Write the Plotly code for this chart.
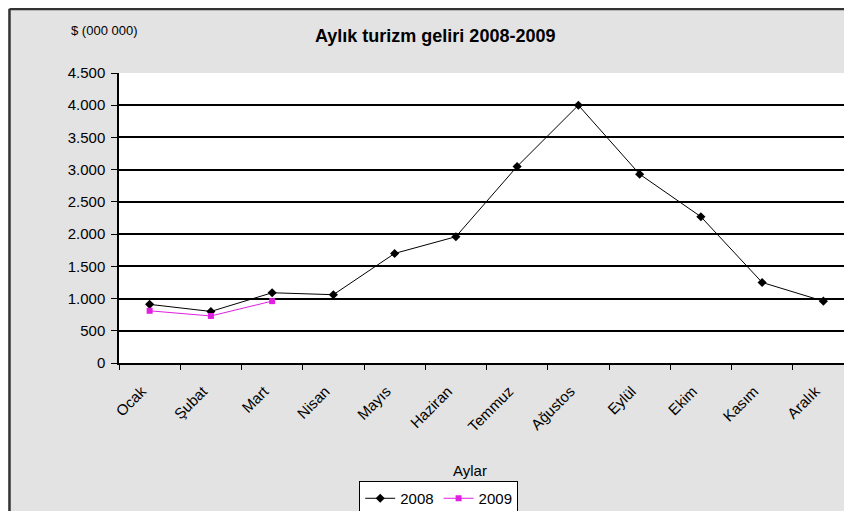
import plotly.graph_objects as go

months = ["Ocak", "Şubat", "Mart", "Nisan", "Mayıs", "Haziran", "Temmuz",
          "Ağustos", "Eylül", "Ekim", "Kasım", "Aralık"]
values_2008 = [910, 800, 1090, 1060, 1700, 1960, 3050, 4000, 2930, 2270, 1250, 960]
values_2009 = [810, 730, 960]
y_ticks = [0, 500, 1000, 1500, 2000, 2500, 3000, 3500, 4000, 4500]

FONT = "Liberation Sans"

fig = go.Figure()
fig.add_trace(go.Scatter(
    x=months, y=values_2008, name="2008", mode="lines+markers",
    line=dict(color="black", width=1),
    marker=dict(symbol="diamond", size=7, color="black"),
))
fig.add_trace(go.Scatter(
    x=months[:len(values_2009)], y=values_2009, name="2009", mode="lines+markers",
    line=dict(color="#e020e0", width=1),
    marker=dict(symbol="square", size=6, color="#e020e0"),
))

fig.update_layout(
    width=852, height=511,
    margin=dict(l=111, r=6, t=65, b=156, autoexpand=False),
    paper_bgcolor="#e3e3e3",
    plot_bgcolor="white",
    separators=",.",
    font=dict(family=FONT, size=15, color="black"),
    showlegend=True,
    legend=dict(
        orientation="h", x=0.435, y=-0.407, xanchor="center", yanchor="top",
        bgcolor="white", bordercolor="black", borderwidth=1,
        font=dict(family=FONT, size=15), itemwidth=30,
        tracegroupgap=0,
    ),
    xaxis=dict(
        type="category", categoryorder="array", categoryarray=months,
        range=[-0.5, 11.5], automargin=False,
        showgrid=False, showline=True, linecolor="black", linewidth=1.5,
        ticks="outside", tickson="boundaries", ticklen=5, tickcolor="black",
        tickangle=-45, tickfont=dict(family=FONT, size=15),
        ticklabelstandoff=12, ticklabelshift=-8,
    ),
    yaxis=dict(
        range=[0, 4500], tickvals=y_ticks, tickformat=",d", automargin=False,
        showgrid=True, gridcolor="black", gridwidth=1.5,
        showline=True, linecolor="black", linewidth=1.5,
        zeroline=False,
        ticks="outside", ticklen=6, tickcolor="black",
        tickfont=dict(family=FONT, size=15),
        ticklabelstandoff=3,
    ),
    annotations=[
        dict(text="<b>Aylık turizm geliri 2008-2009</b>", xref="paper", yref="paper",
             x=0.430, y=1.128, xanchor="center", yanchor="middle", showarrow=False,
             font=dict(family=FONT, size=18, color="black")),
        dict(text="$ (000 000)", xref="paper", yref="paper",
             x=-0.02, y=1.145, xanchor="center", yanchor="middle", showarrow=False,
             font=dict(family=FONT, size=13, color="black")),
        dict(text="Aylar", xref="paper", yref="paper",
             x=0.478, y=-0.372, xanchor="center", yanchor="middle", showarrow=False,
             font=dict(family=FONT, size=15, color="black")),
    ],
    shapes=[
        dict(type="line", xref="paper", yref="paper", x0=-0.149, x1=1.05,
             y0=1.221, y1=1.221, line=dict(color="#333333", width=2.5)),
        dict(type="line", xref="paper", yref="paper", x0=-0.149, x1=-0.149,
             y0=1.221, y1=-0.6, line=dict(color="#333333", width=2.5)),
    ],
)

fig.write_html("out.html")
